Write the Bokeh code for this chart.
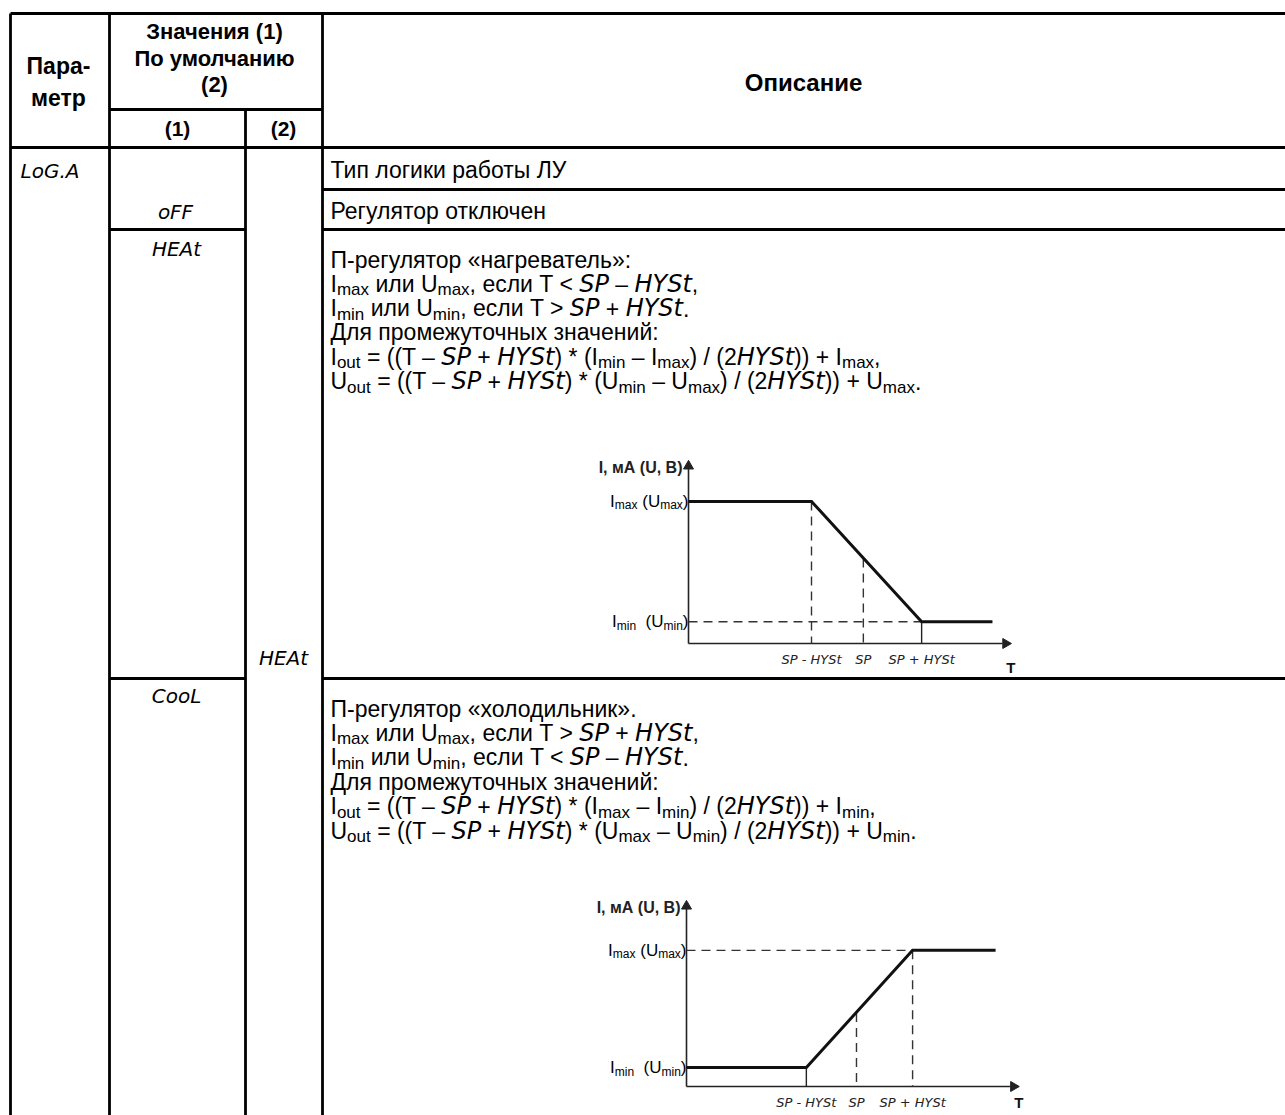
import os, re, glob
from bokeh.plotting import figure
from bokeh.models import Range1d, ColumnDataSource
from bokeh.core.properties import value
from bokeh.embed import file_html
from bokeh.resources import INLINE

try:
    from PIL import ImageFont
except Exception:
    ImageFont = None

# ---------------- data (schematic chart values) ----------------
# heater ("HEAt") characteristic, T in chart units, output level in chart units
HEAT_T = [0.0, 3.82, 7.24, 9.44]
HEAT_OUT = [7.85, 7.85, 1.2, 1.2]
HEAT_TICKS = [3.82, 5.43, 7.24]
HEAT_SP_LEVEL = 4.7
HEAT_MIN, HEAT_MAX = 1.2, 7.85
# cooler ("CooL") characteristic
COOL_T = [0.0, 3.61, 6.81, 9.31]
COOL_OUT = [1.03, 1.03, 7.4, 7.4]
COOL_TICKS = [3.61, 5.12, 6.81]
COOL_SP_LEVEL = 4.0
COOL_MIN, COOL_MAX = 1.03, 7.4
TICK_LABELS = ["SP - HYSt", "SP", "SP + HYSt"]
Y_LABEL = "I, мА (U, B)"
X_LABEL = "T"
MAX_LABEL = "I_{max} (U_{max})"
MIN_LABEL = "I_{min}  (U_{min})"

HEADER_PARAM = ["Пара-", "метр"]
HEADER_VALUES = ["Значения (1)", "По умолчанию", "(2)"]
HEADER_SUB = ["(1)", "(2)"]
HEADER_DESC = "Описание"
PARAM = "LoG.A"
VALUES_1 = ["oFF", "HEAt", "CooL"]
DEFAULT_2 = "HEAt"
ROW_TYPE = "Тип логики работы ЛУ"
ROW_OFF = "Регулятор отключен"
HEAT_LINES = [
    "П-регулятор «нагреватель»:",
    "I_{max} или U_{max}, если T < [SP] – [HYSt],",
    "I_{min} или U_{min}, если T > [SP] + [HYSt].",
    "Для промежуточных значений:",
    "I_{out} = ((T – [SP] + [HYSt]) * (I_{min} – I_{max}) / (2[HYSt])) + I_{max},",
    "U_{out} = ((T – [SP] + [HYSt]) * (U_{min} – U_{max}) / (2[HYSt])) + U_{max}.",
]
COOL_LINES = [
    "П-регулятор «холодильник».",
    "I_{max} или U_{max}, если T > [SP] + [HYSt],",
    "I_{min} или U_{min}, если T < [SP] – [HYSt].",
    "Для промежуточных значений:",
    "I_{out} = ((T – [SP] + [HYSt]) * (I_{max} – I_{min}) / (2[HYSt])) + I_{min},",
    "U_{out} = ((T – [SP] + [HYSt]) * (U_{max} – U_{min}) / (2[HYSt])) + U_{min}.",
]

# ---------------- fonts & measuring ----------------
def find_font(fname):
    if not fname:
        return None
    for root in ("/usr/share/fonts", "/usr/local/share/fonts",
                 os.path.expanduser("~/.local/share/fonts"), os.path.expanduser("~/.fonts")):
        hits = glob.glob(os.path.join(root, "**", fname), recursive=True)
        if hits:
            return hits[0]
    return None

FILES = {
    ("Liberation Sans", "normal"): "LiberationSans-Regular.ttf",
    ("Liberation Sans", "bold"): "LiberationSans-Bold.ttf",
    ("Liberation Sans", "italic"): "LiberationSans-Italic.ttf",
    ("Liberation Sans Narrow", "normal"): "LiberationSansNarrow-Regular.ttf",
    ("Liberation Sans Narrow", "bold"): "LiberationSansNarrow-Bold.ttf",
    ("Liberation Sans Narrow", "italic"): "LiberationSansNarrow-Italic.ttf",
    ("DejaVu Sans", "italic"): "DejaVuSans-Oblique.ttf",
    ("DejaVu Sans", "normal"): "DejaVuSans.ttf",
}
NARROW = "Liberation Sans Narrow" if find_font(FILES[("Liberation Sans Narrow", "normal")]) else "Liberation Sans"
LCD = "Liberation Sans Narrow" if find_font(FILES[("Liberation Sans Narrow", "italic")]) else "DejaVu Sans"

_fcache = {}
def text_width(s, font, style, size):
    key = (font, style)
    if key not in _fcache:
        f = None
        path = find_font(FILES.get(key, ""))
        if path and ImageFont is not None:
            try:
                f = ImageFont.truetype(path, 100)
            except Exception:
                f = None
        _fcache[key] = f
    f = _fcache[key]
    if f is None:
        return len(s) * size * 0.52
    return f.getlength(s) * size / 100.0

TOK = re.compile(r"_\{([^}]*)\}|\[([^\]]*)\]|([^_\[]+)")
def parse(s):
    out = []
    for m in TOK.finditer(s):
        if m.group(1) is not None:
            out.append(("sub", m.group(1)))
        elif m.group(2) is not None:
            out.append(("lcd", m.group(2)))
        else:
            out.append(("n", m.group(3)))
    return out

GROUPS = {}
def put(target, x, y, text, xo, yo, font, size, style, align="left", baseline="alphabetic", color="#000000"):
    key = (id(target), font, size, style, align, baseline, color)
    g = GROUPS.setdefault(key, {"target": target, "x": [], "y": [], "text": [], "xo": [], "yo": []})
    g["x"].append(x); g["y"].append(y); g["text"].append(text)
    g["xo"].append(xo); g["yo"].append(yo)

def rich(target, x, y, s, styles, align="left"):
    items, cum = [], 0.0
    for kind, t in parse(s):
        font, style, size, dy = styles[kind]
        lead = len(t) - len(t.lstrip())
        wl = text_width(t[:lead], font, style, size) if lead else 0.0
        txt = t.strip()
        if txt:
            items.append((cum + wl, dy, txt, font, size, style))
        cum += text_width(t, font, style, size)
    shift = 0.0 if align == "left" else (-cum if align == "right" else -cum / 2)
    for xo, dy, txt, font, size, style in items:
        put(target, x, y, txt, xo + shift, dy, font, size, style)

def flush():
    for key, g in GROUPS.items():
        _, font, size, style, align, baseline, color = key
        src = ColumnDataSource(dict(x=g["x"], y=g["y"], text=g["text"], xo=g["xo"], yo=g["yo"]))
        g["target"].text(x="x", y="y", text="text", x_offset="xo", y_offset="yo", source=src,
                         text_font=value(font), text_font_size=value(f"{size}px"),
                         text_font_style=style, text_align=align, text_baseline=baseline,
                         text_color=color)

# ---------------- figure (data coords == picture pixels) ----------------
W, H = 1285, 1115
p = figure(width=W, height=H, x_range=Range1d(0, W), y_range=Range1d(H, 0),
           output_backend="svg", toolbar_location=None, min_border=0,
           x_axis_location=None, y_axis_location=None)
p.grid.visible = False
p.outline_line_color = None
p.background_fill_color = "white"
p.border_fill_color = "white"

# table rules
X0, XP, XV, XD, XR = 10, 109, 245, 322, 1290
YT, YH1, YH2, YB = 13, 109, 147, 1120
hx0 = [X0, XP, X0, XD, XP, XD, XP, XD]
hx1 = [XR, XD, XR, XR, XV, XR, XV, XR]
hy = [YT, YH1, YH2, 189, 229, 229, 678, 678]
p.segment(x0=hx0, y0=hy, x1=hx1, y1=hy, line_color="black", line_width=2.8)
vx = [X0, XP, XV, XD]
vy0 = [YT, YT, YH1, YT]
p.segment(x0=vx, y0=vy0, x1=vx, y1=[YB] * 4, line_color="black", line_width=2.8)

# header
BOLD = "Liberation Sans"
put(p, 58, 65, HEADER_PARAM[0], 0, 0, BOLD, 23, "bold", "center", "middle")
put(p, 58, 97, HEADER_PARAM[1], 0, 0, BOLD, 23, "bold", "center", "middle")
for i, t in enumerate(HEADER_VALUES):
    put(p, 214, 31 + 26.5 * i, t, 0, 0, BOLD, 22, "bold", "center", "middle")
put(p, 177, 128, HEADER_SUB[0], 0, 0, BOLD, 21, "bold", "center", "middle")
put(p, 283, 128, HEADER_SUB[1], 0, 0, BOLD, 21, "bold", "center", "middle")
put(p, 803, 82, HEADER_DESC, 0, 0, BOLD, 24, "bold", "center", "middle")

# parameter / value cells (LCD-like labels)
put(p, 20, 170, PARAM, 0, 0, LCD, 20, "italic", "left", "middle")
put(p, 175, 211, VALUES_1[0], 0, 0, LCD, 20, "italic", "center", "middle")
put(p, 176, 248, VALUES_1[1], 0, 0, LCD, 20, "italic", "center", "middle")
put(p, 176, 695, VALUES_1[2], 0, 0, LCD, 20, "italic", "center", "middle")
put(p, 283, 657, DEFAULT_2, 0, 0, LCD, 20, "italic", "center", "middle")

# description text
FS = 23
DESC = {"n": ("Liberation Sans", "normal", FS, 0),
        "sub": ("Liberation Sans", "normal", 17, 6),
        "lcd": (LCD, "italic", 24, 0)}
XT = 330
put(p, XT, 169, ROW_TYPE, 0, 0, "Liberation Sans", FS, "normal", "left", "middle")
put(p, XT, 210, ROW_OFF, 0, 0, "Liberation Sans", FS, "normal", "left", "middle")
for i, line in enumerate(HEAT_LINES):
    rich(p, XT, 259 + 24.3 * i, line, DESC)
for i, line in enumerate(COOL_LINES):
    rich(p, XT, 708 + 24.4 * i, line, DESC)

# ---------------- embedded characteristics ----------------
CH = {"n": (NARROW, "normal", 17, 0),
      "sub": (NARROW, "normal", 12, 4),
      "lcd": (LCD, "italic", 13, 0)}

def draw_chart(xt, yt, T, OUT, ticks, sp_level, lo, hi, heater, t_dy):
    c = p.subplot(x_source=Range1d(0, 10), y_source=Range1d(0, 10),
                  x_target=Range1d(*xt), y_target=Range1d(*yt))
    axc = "#222222"
    # axes
    c.segment(x0=[0, 0], y0=[0, 0], x1=[0, 9.75], y1=[9.8, 0], line_color=axc, line_width=1.6)
    c.scatter(x=[0], y=[9.8], marker="triangle", size=10, color=axc)
    c.scatter(x=[9.85], y=[0], marker="triangle", size=10, color=axc, angle=-1.5708)
    # guide lines
    dash = dict(line_color="#333333", line_width=1.4, line_dash="9 6")
    if heater:
        c.segment(x0=[0], y0=[lo], x1=[ticks[2]], y1=[lo], **dash)
        c.segment(x0=[ticks[0], ticks[1]], y0=[hi, sp_level], x1=[ticks[0], ticks[1]], y1=[0, 0], **dash)
        c.segment(x0=[ticks[2]], y0=[lo], x1=[ticks[2]], y1=[0], line_color=axc, line_width=1.4)
    else:
        c.segment(x0=[0], y0=[hi], x1=[ticks[2]], y1=[hi], **dash)
        c.segment(x0=[ticks[2], ticks[1]], y0=[hi, sp_level], x1=[ticks[2], ticks[1]], y1=[0, 0], **dash)
        c.segment(x0=[ticks[0]], y0=[lo], x1=[ticks[0]], y1=[0], line_color=axc, line_width=1.4)
    # characteristic
    c.line(x=T, y=OUT, line_color="#111111", line_width=3, line_join="miter")
    # labels
    put(c, 0, 9.75, Y_LABEL, -6, 0, NARROW, 16, "bold", "right", "middle", "#222222")
    rich(c, 0, hi, MAX_LABEL, CH, align="right")
    rich(c, 0, lo, MIN_LABEL, CH, align="right")
    for tk, lab in zip(ticks, TICK_LABELS):
        put(c, tk, 0, lab, 0, 16, LCD, 13, "italic", "center", "middle", "#222222")
    put(c, 9.95, 0, X_LABEL, 2, t_dy, NARROW, 15, "bold", "center", "middle", "#111111")
    return c

c1 = draw_chart((688, 1010), (643, 462), HEAT_T, HEAT_OUT, HEAT_TICKS, HEAT_SP_LEVEL,
                HEAT_MIN, HEAT_MAX, True, 24)
c2 = draw_chart((686, 1018), (1086, 902), COOL_T, COOL_OUT, COOL_TICKS, COOL_SP_LEVEL,
                COOL_MIN, COOL_MAX, False, 16)

flush()

open("out.html", "w").write(file_html(p, INLINE))
